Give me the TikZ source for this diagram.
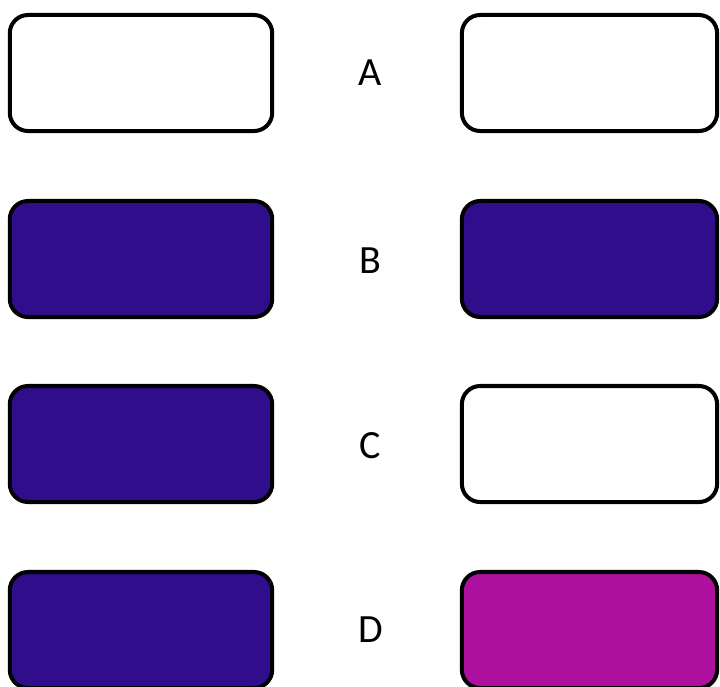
\documentclass[tikz,border=0pt]{standalone}
\usepackage{fontspec}
\setmainfont{Carlito}
\definecolor{deepviolet}{HTML}{300D8A}
\definecolor{orchid}{HTML}{AE119E}
\begin{document}
\begin{tikzpicture}[
    x=0.025cm, y=-0.025cm,
    every node/.style={font=\fontsize{28.5}{34}\selectfont},
    cell/.style={draw=black, line width=2.85pt, rounded corners=13pt,
        minimum height=2.9cm, inner sep=0pt},
    lcell/.style={cell, minimum width=6.56cm},
    rcell/.style={cell, minimum width=6.38cm},
    off/.style={fill=white},
    on/.style={fill=deepviolet},
    hot/.style={fill=orchid}]
    \useasboundingbox (0,0) rectangle (720,686);
    % left column
    \node[lcell,off] (la) at (141,73) {};
    \node[lcell,on]  (lb) at (141,259) {};
    \node[lcell,on]  (lc) at (141,444) {};
    \node[lcell,on]  (ld) at (141,630) {};
    % right column
    \node[rcell,off] (ra) at (589.5,73) {};
    \node[rcell,on]  (rb) at (589.5,259) {};
    \node[rcell,off] (rc) at (589.5,444) {};
    \node[rcell,hot] (rd) at (589.5,630) {};
    % labels
    \node (a) at (370,73) {A};
    \node (b) at (370,261) {B};
    \node (c) at (370,446) {C};
    \node (d) at (371,630) {D};
\end{tikzpicture}
\end{document}
